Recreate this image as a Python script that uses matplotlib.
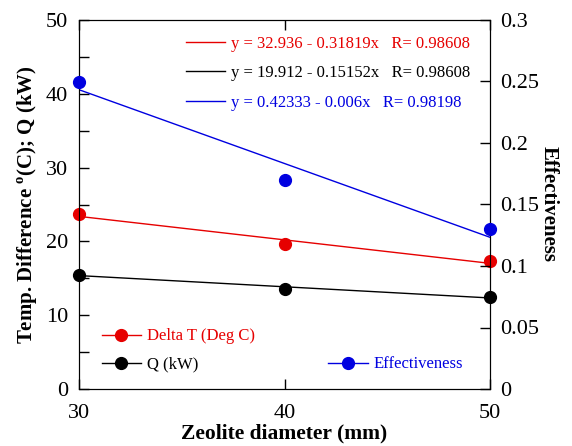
import numpy as np
import matplotlib
matplotlib.use("Agg")
import matplotlib.pyplot as plt
from matplotlib.lines import Line2D
from matplotlib.ticker import MultipleLocator, FuncFormatter

plt.rcParams['font.family'] = ['Liberation Serif', 'DejaVu Serif']
plt.rcParams['mathtext.fontset'] = 'custom'
plt.rcParams['mathtext.rm'] = 'Liberation Serif'
plt.rcParams['mathtext.bf'] = 'Liberation Serif:bold'

# Data
diameter = [30, 40, 50]
delta_t = [23.69, 19.6, 17.33]
q_kw = [15.51, 13.56, 12.48]
effectiveness = [0.25, 0.17, 0.13]

# Fit coefficients (intercept, slope) and R values as printed on chart
fit_dt = (32.936, -0.31819, 0.98608)
fit_q = (19.912, -0.15152, 0.98608)
fit_eff = (0.42333, -0.006, 0.98198)

RED = '#e60000'
BLUE = '#0000e0'
BLACK = '#000000'

fig = plt.figure(figsize=(5.72, 4.46), dpi=100)
ax = fig.add_axes([79/572, 57/446, 411/572, 369/446])
ax2 = ax.twinx()

xs = np.array([diameter[0], diameter[-1]], dtype=float)

ax.plot(xs, fit_dt[0] + fit_dt[1]*xs, color=RED, lw=1)
ax.plot(xs, fit_q[0] + fit_q[1]*xs, color=BLACK, lw=1)
ax2.plot(xs, fit_eff[0] + fit_eff[1]*xs, color=BLUE, lw=1)

ax.plot(diameter, delta_t, 'o', color=RED, ms=8.5, clip_on=False, zorder=5)
ax.plot(diameter, q_kw, 'o', color=BLACK, ms=8.5, clip_on=False, zorder=5)
ax2.plot(diameter, effectiveness, 'o', color=BLUE, ms=8.5, clip_on=False, zorder=5)

ax.set_xlim(30, 50)
ax.set_ylim(0, 50)
ax2.set_ylim(0, 0.3)

ax.xaxis.set_major_locator(MultipleLocator(10))
ax.yaxis.set_major_locator(MultipleLocator(10))
ax.yaxis.set_minor_locator(MultipleLocator(5))
ax2.yaxis.set_major_locator(MultipleLocator(0.05))
ax2.yaxis.set_major_formatter(FuncFormatter(lambda v, p: '%g' % round(v, 3)))

ax.tick_params(axis='both', which='both', direction='in', labelsize=16, length=7, width=1, top=True)
ax.tick_params(axis='x', pad=11)
ax.tick_params(axis='y', pad=8)
ax2.tick_params(axis='y', direction='in', labelsize=16, length=7, width=1, pad=7)

ax.set_xlabel('Zeolite diameter (mm)', fontsize=15.5, fontweight='bold', labelpad=0)
ax.set_ylabel('Temp. Difference $^{\\mathbf{o}}$(C); Q (kW)', fontsize=15, fontweight='bold', labelpad=4)
ax2.set_ylabel('Effectiveness', fontsize=15, fontweight='bold', rotation=270, labelpad=14)

# Equation legend
eq_labels = [
    'y = %.3f - %.5fx   R= %.5f' % (fit_dt[0], -fit_dt[1], fit_dt[2]),
    'y = %.3f - %.5fx   R= %.5f' % (fit_q[0], -fit_q[1], fit_q[2]),
    'y = %.5f - %.3fx   R= %.5f' % (fit_eff[0], -fit_eff[1], fit_eff[2]),
]
h1 = [Line2D([], [], color=RED, lw=1), Line2D([], [], color=BLACK, lw=1), Line2D([], [], color=BLUE, lw=1)]
leg1 = ax2.legend(h1, eq_labels, loc='upper left', bbox_to_anchor=(0.26, 0.957), frameon=False,
                  fontsize=12, handlelength=2.35, handletextpad=0.36, labelspacing=0.8,
                  borderpad=0, borderaxespad=0)
for t, c in zip(leg1.get_texts(), [RED, BLACK, BLUE]):
    t.set_color(c)
ax2.add_artist(leg1)

h2 = [Line2D([], [], color=RED, lw=1, marker='o', ms=8.5), Line2D([], [], color=BLACK, lw=1, marker='o', ms=8.5)]
leg2 = ax2.legend(h2, ['Delta T (Deg C)', 'Q (kW)'], loc='lower left', bbox_to_anchor=(0.055, 0.045),
                  frameon=False, fontsize=12, handlelength=2.35, handletextpad=0.36, labelspacing=0.72,
                  borderpad=0, borderaxespad=0)
for t, c in zip(leg2.get_texts(), [RED, BLACK]):
    t.set_color(c)
ax2.add_artist(leg2)

h3 = [Line2D([], [], color=BLUE, lw=1, marker='o', ms=8.5)]
leg3 = ax2.legend(h3, ['Effectiveness'], loc='lower left', bbox_to_anchor=(0.607, 0.045),
                  frameon=False, fontsize=12, handlelength=2.35, handletextpad=0.36,
                  borderpad=0, borderaxespad=0)
leg3.get_texts()[0].set_color(BLUE)

fig.savefig('out.png', dpi=100)
